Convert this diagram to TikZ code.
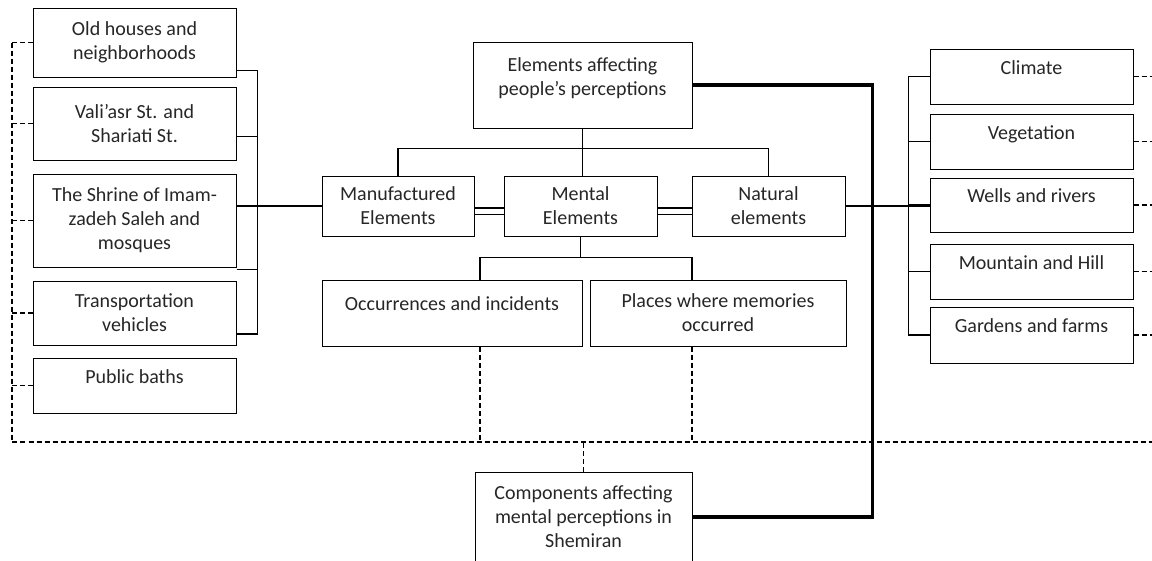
\documentclass[tikz,border=0pt]{standalone}
\usepackage{fontspec}
\setmainfont{Carlito}
\usepackage{tikz}
\usepackage{xcolor}

\tikzset{
  box/.style={draw, line width=1pt, align=center, inner sep=2pt,
    font=\fontsize{20}{24}\selectfont, text=black!85},
  sidebox/.style={box, minimum width=203pt},
  oneline/.style={text depth=18pt},
  tree/.style={line width=1.2pt},
  link/.style={line width=1.2pt, dash pattern=on 5pt off 3pt},
  heavy/.style={line width=3.5pt}
}

\begin{document}
\begin{tikzpicture}[x=1pt, y=-1pt]
    \useasboundingbox (0,0) rectangle (1152,560);
    % left column
    \node [sidebox, minimum height=69pt] (old) at (134.5,42.5) {Old houses and\\neighborhoods};
    \node [sidebox, minimum height=73pt] (valiasr) at (134.5,123.5) {Vali’asr St. and\\Shariati St.};
    \node [sidebox, minimum height=93pt] (shrine) at (134.5,220.5) {The Shrine of Imam-\\zadeh Saleh and\\mosques};
    \node [sidebox, minimum height=64pt] (transport) at (134.5,313) {Transportation\\vehicles};
    \node [sidebox, oneline, minimum height=55pt] (baths) at (134.5,385.5) {Public baths};
    % right column
    \node [sidebox, oneline, minimum height=55pt] (climate) at (1031.5,76.5) {Climate};
    \node [sidebox, oneline, minimum height=55pt] (vegetation) at (1031.5,141.5) {Vegetation};
    \node [sidebox, oneline, minimum height=54pt] (wells) at (1031.5,205) {Wells and rivers};
    \node [sidebox, oneline, minimum height=55pt] (mountain) at (1031.5,271.5) {Mountain and Hill};
    \node [sidebox, oneline, minimum height=56pt] (gardens) at (1031.5,335) {Gardens and farms};
    % centre
    \node [box, minimum width=219pt, minimum height=86pt] (top) at (582.5,85) {Elements affecting\\people’s perceptions\\[-8pt]\mbox{}};
    \node [box, minimum width=152pt, minimum height=60pt] (manufactured) at (398,206) {Manufactured\\Elements};
    \node [box, minimum width=153pt, minimum height=60pt] (mental) at (580.5,206) {Mental\\Elements};
    \node [box, minimum width=153pt, minimum height=60pt] (natural) at (768.5,206) {Natural\\elements};
    \node [box, oneline, minimum width=260pt, minimum height=66pt] (occurrences) at (452,313) {Occurrences and incidents};
    \node [box, minimum width=256pt, minimum height=66pt] (places) at (718,313) {Places where memories\\occurred};
    \node [box, minimum width=217pt, minimum height=90pt] (components) at (583.5,517) {Components affecting\\mental perceptions in\\Shemiran};

    % solid links
    \draw[tree] (top.south) -- (top.south |- mental.north);
    \draw[tree] (manufactured.north) -- ++(0,-27) -| (natural.north);
    \draw[tree, double, double distance=5pt] ([yshift=-5pt]manufactured.east) -- ([yshift=-5pt]mental.west);
    \draw[tree, double, double distance=5pt] ([yshift=-5pt]mental.east) -- ([yshift=-5pt]natural.west);
    \draw[tree] (mental.south) -- ++(0,21) coordinate (mbar);
    \draw[tree] ([xshift=28pt]occurrences.north) |- (mbar) -| ([xshift=-26pt]places.north);
    \draw[tree] (shrine.east |- manufactured.west) -- (manufactured.west);
    \draw[tree] (natural.east) -- (natural.east -| wells.west);
    \draw[tree] ([yshift=-28pt]old.east) -- ++(21,0) coordinate (lbrk);
    \draw[tree] ([yshift=-21pt]transport.east) -- ++(21,0) coordinate (lbot);
    \draw[tree] (lbrk) -- (lbot);
    \draw[tree] ([yshift=-13pt]valiasr.east) -- ++(21,0);
    \draw[tree] ([yshift=-2pt]shrine.south east) -- ++(21,0);
    \draw[tree] (climate.west) -- ++(-21,0) coordinate (rbrk)
      -- (rbrk |- gardens.west) -- (gardens.west);
    \foreach \b in {vegetation,wells,mountain}
      \draw[tree] (\b.west) -- (\b.west -| rbrk);
    \draw[heavy] (top.east) -- ++(180,0) coordinate (hv) |- (components.east);

    % dashed links
    \coordinate (lbus) at (12,442);
    \coordinate (rbus) at (1152,442);
    \draw[link] (old.west -| lbus) -- (lbus) -- (rbus);
    \foreach \b in {old,valiasr,shrine,transport,baths}
      \draw[link] (\b.west) -- (\b.west -| lbus);
    \foreach \b in {climate,vegetation,wells,mountain,gardens}
      \draw[link] (\b.east) -- (\b.east -| rbus);
    \draw[link] ([xshift=28pt]occurrences.south) -- ([xshift=28pt]occurrences.south |- lbus);
    \draw[link] ([xshift=-26pt]places.south) -- ([xshift=-26pt]places.south |- lbus);
    \draw[link] (components.north) -- (components.north |- lbus);
\end{tikzpicture}
\end{document}
